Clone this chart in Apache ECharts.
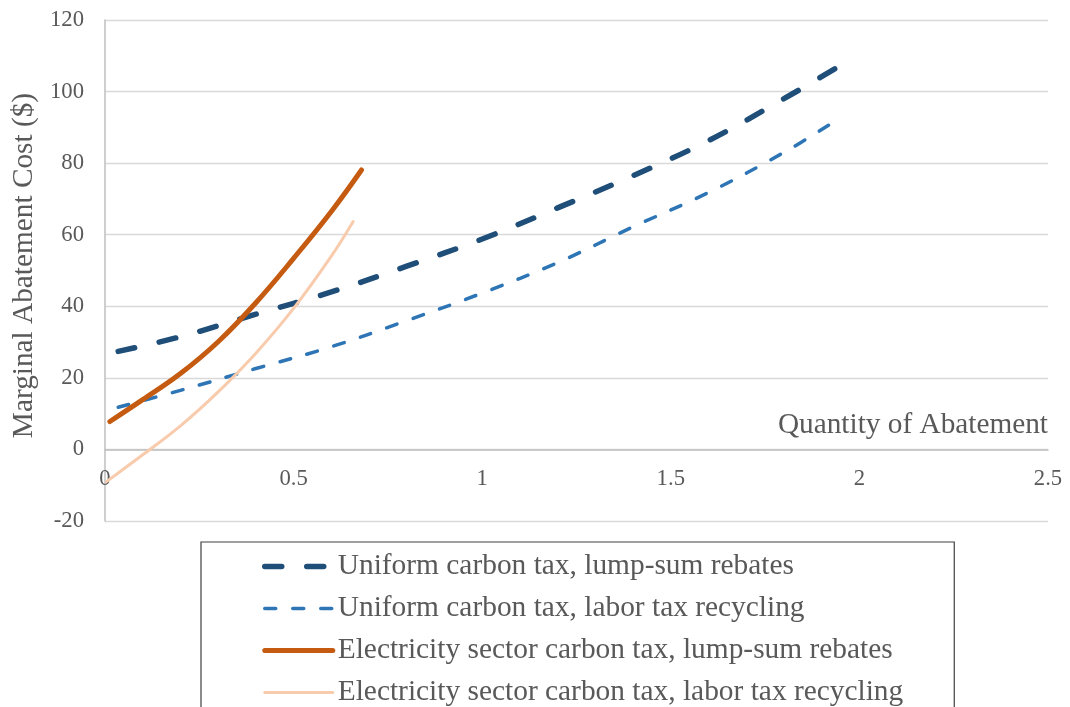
<!DOCTYPE html>
<html>
<head>
<meta charset="utf-8">
<script src="https://cdn.jsdelivr.net/npm/echarts@6/dist/echarts.min.js"></script>
<style>
  html, body { margin: 0; padding: 0; background: #ffffff; }
  #chart { width: 1070px; height: 707px; }
</style>
</head>
<body>
<div id="chart"></div>
<script>
// Series names
const seriesNames = [
  "Uniform carbon tax, lump-sum rebates",
  "Uniform carbon tax, labor tax recycling",
  "Electricity sector carbon tax, lump-sum rebates",
  "Electricity sector carbon tax, labor tax recycling"
];

// [quantity of abatement, marginal abatement cost]
const uniformLumpSum = [
  [0.035, 27.4], [0.2, 31.5], [0.4, 37.8], [0.6, 44.0], [0.8, 51.2],
  [1.0, 58.8], [1.2, 67.5], [1.4, 76.5], [1.6, 86.3], [1.8, 98.0], [1.945, 107.0]
];
const uniformLaborTax = [
  [0.035, 11.8], [0.2, 16.5], [0.4, 22.6], [0.6, 28.7], [0.8, 36.0],
  [1.0, 43.7], [1.2, 52.2], [1.4, 62.2], [1.6, 71.8], [1.8, 83.0], [1.93, 91.4]
];
const electricityLumpSum = [
  [0.013, 7.8], [0.1, 13.9], [0.2, 21.2], [0.3, 30.1], [0.4, 41.0],
  [0.5, 53.4], [0.6, 66.5], [0.68, 78.1]
];
const electricityLaborTax = [
  [0.004, -9.0], [0.1, -1.5], [0.2, 6.6], [0.3, 16.1], [0.4, 26.9],
  [0.5, 39.4], [0.6, 54.0], [0.658, 63.7]
];

// Axis settings
const xMin = 0, xMax = 2.5, xStep = 0.5;
const yMin = -20, yMax = 120, yStep = 20;
const xTitle = "Quantity of Abatement";
const yTitle = "Marginal Abatement Cost ($)";

const serif = "'Liberation Serif', 'Times New Roman', serif";
const textGray = "#595959";

// layout
const gridTop = 20, gridBottom = 186, chartH = 707;
const plotH = chartH - gridTop - gridBottom;
// shift the x axis up so it crosses the y axis at 0
const xAxisOffset = -plotH * (0 - yMin) / (yMax - yMin);

const styles = [
  { color: '#1F4E79', width: 5.5, type: [17, 25] },
  { color: '#2E75B6', width: 3.5, type: [11, 17] },
  { color: '#C55A11', width: 5, type: 'solid' },
  { color: '#F8CBAD', width: 3, type: 'solid' }
];
const dataSets = [uniformLumpSum, uniformLaborTax, electricityLumpSum, electricityLaborTax];

const chart = echarts.init(document.getElementById('chart'), null, { renderer: 'canvas' });

chart.setOption({
  backgroundColor: '#ffffff',
  animation: false,
  title: {
    text: xTitle,
    right: 22, top: 411, padding: 0,
    textStyle: { fontFamily: serif, fontSize: 29.3, fontWeight: 'normal', color: textGray, lineHeight: 29 }
  },
  grid: { left: 105, right: 22, top: gridTop, bottom: gridBottom, containLabel: false },
  xAxis: {
    type: 'value',
    min: xMin, max: xMax, interval: xStep,
    offset: xAxisOffset,
    axisLine: { show: true, onZero: false, lineStyle: { color: '#BFBFBF', width: 1.5 } },
    axisTick: { show: false },
    splitLine: { show: false },
    axisLabel: { fontFamily: serif, fontSize: 22.7, color: textGray, margin: 18 }
  },
  yAxis: {
    type: 'value',
    min: yMin, max: yMax, interval: yStep,
    name: yTitle,
    nameLocation: 'middle',
    nameGap: 58,
    nameTextStyle: { fontFamily: serif, fontSize: 29.3, color: textGray, padding: [0, 0, 0, 10] },
    axisLine: { show: true, onZero: false, lineStyle: { color: '#BFBFBF', width: 1.5 } },
    axisTick: { show: false },
    splitLine: { show: true, lineStyle: { color: '#D9D9D9', width: 1.3 } },
    axisLabel: { fontFamily: serif, fontSize: 22.7, color: textGray, margin: 21 }
  },
  legend: {
    orient: 'vertical',
    left: 201, top: 542,
    height: 240,
    padding: [10, 51, 30, 61],
    itemGap: 13,
    itemWidth: 68, itemHeight: 14,
    borderColor: '#404040', borderWidth: 1.2,
    textStyle: { fontFamily: serif, fontSize: 29.4, lineHeight: 29, color: textGray },
    data: seriesNames.map((n, i) => ({
      name: n,
      itemStyle: { opacity: 0 },
      lineStyle: { color: styles[i].color, width: styles[i].width, type: styles[i].type, cap: 'round' }
    }))
  },
  series: seriesNames.map((n, i) => ({
    name: n,
    type: 'line',
    data: dataSets[i],
    smooth: 0.4,
    symbol: 'none',
    z: i < 2 ? 3 : 4,
    lineStyle: { color: styles[i].color, width: styles[i].width, type: styles[i].type, cap: 'round' },
    itemStyle: { color: styles[i].color }
  }))
});
</script>
</body>
</html>
